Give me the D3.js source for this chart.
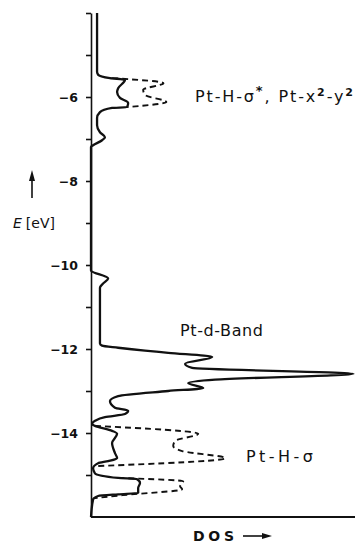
<!DOCTYPE html>
<html>
<head>
<meta charset="utf-8">
<script src="https://cdn.jsdelivr.net/npm/d3@7"></script>
<style>
  html, body { margin: 0; padding: 0; background: #fff; }
  svg { display: block; }
</style>
</head>
<body>
<script>
// ---- data (energy in eV, DOS in arbitrary units 0..100) ----
const solidE = [-4.0, -5.40, -5.47, -5.55, -5.59, -5.79, -5.88, -6.02, -6.14, -6.24, -6.26, -6.36, -6.50, -6.67, -6.84, -6.96, -7.03, -7.15, -7.19,
  -10.13, -10.32, -10.44, -10.54, -11.87, -11.92, -11.97, -12.04, -12.09, -12.19, -12.35, -12.45, -12.59, -12.73, -12.81, -12.93, -13.00,
  -13.12, -13.24, -13.40, -13.47, -13.55, -13.62, -13.71, -13.79, -13.83, -13.95, -14.02, -14.24, -14.48, -14.60, -14.67, -14.72, -14.84,
  -14.96, -15.07, -15.10, -15.19, -15.31, -15.43, -15.46, -15.50, -15.58, -16.0];
const solidDOS = [2.3, 2.3, 2.7, 7.2, 12.9, 10.3, 9.9, 11.0, 14.1, 13.7, 8.0, 3.4, 2.3, 2.3, 3.4, 5.3, 4.2, 0.8, 0,
  0, 6.5, 4.6, 3.4, 3.4, 4.2, 10.3, 20.5, 29.3, 46.0, 35.7, 38.4, 99.6, 47.1, 36.9, 42.6, 29.3,
  10.3, 7.2, 9.1, 14.1, 12.9, 5.3, 1.5, 0.4, 1.5, 8.0, 9.9, 8.0, 9.1, 9.9, 6.5, 2.7, 0.8,
  1.5, 10.3, 17.5, 18.6, 17.9, 17.9, 10.3, 2.7, 0.8, 0];

const dashUpperE = [-5.55, -5.67, -5.83, -5.95, -6.12, -6.24];
const dashUpperDOS = [8.0, 27.5, 19.8, 20.5, 28.6, 13.7];

const dashLowerE = [-13.83, -14.02, -14.19, -14.31, -14.43, -14.60, -14.79];
const dashLowerDOS = [1.5, 40.7, 31.9, 31.2, 34.6, 51.0, 1.5];

const dashBottomE = [-15.07, -15.15, -15.27, -15.34, -15.48, -15.55];
const dashBottomDOS = [10.3, 35.0, 33.8, 34.6, 12.0, 1.5];

const tickValues = [-4, -5, -6, -7, -8, -9, -10, -11, -12, -13, -14, -15];
const tickLabels = ["", "", "−6", "", "−8", "", "−10", "", "−12", "", "−14", ""];

const labelTop = "Pt-H-σ";
const labelBand = "Pt-d-Band";
const labelSigma = "Pt-H-σ";
const yTitle = "[eV]";
const xTitle = "DOS";

// ---- layout ----
const W = 355, H = 543;
const svg = d3.select("body").append("svg").attr("width", W).attr("height", H);

const y = d3.scaleLinear().domain([-4, -16]).range([13, 517]);
const x = d3.scaleLinear().domain([0, 100]).range([91, 354.5]);
const ink = "#111";

// y axis
const yAxis = d3.axisLeft(y)
  .tickValues(tickValues)
  .tickSize(5)
  .tickSizeOuter(0)
  .tickPadding(8)
  .tickFormat((d, i) => tickLabels[i]);

const gy = svg.append("g").attr("transform", `translate(${x(0)},0)`).call(yAxis);
gy.select(".domain").attr("stroke", ink).attr("stroke-width", 1.6);
gy.selectAll(".tick line").attr("stroke", ink).attr("stroke-width", 1.6);
gy.selectAll(".tick text")
  .attr("fill", ink)
  .style("font-family", "'DejaVu Sans', sans-serif")
  .style("font-weight", "bold")
  .style("font-size", "12.5px");

// x axis line (bottom)
svg.append("line")
  .attr("x1", x(0)).attr("x2", W)
  .attr("y1", y(-16)).attr("y2", y(-16))
  .attr("stroke", ink).attr("stroke-width", 1.8);

// curves
const line = d3.line()
  .x(d => x(d[1]))
  .y(d => y(d[0]))
  .curve(d3.curveMonotoneY);

const zipS = (e, v) => e.map((d, i) => [d, v[i]]);

[[dashUpperE, dashUpperDOS], [dashLowerE, dashLowerDOS], [dashBottomE, dashBottomDOS]].forEach(([e, v]) => {
  svg.append("path")
    .attr("d", line(zipS(e, v)))
    .attr("fill", "none")
    .attr("stroke", ink)
    .attr("stroke-width", 1.9)
    .attr("stroke-dasharray", "6,4");
});

svg.append("path")
  .attr("d", line(zipS(solidE, solidDOS)))
  .attr("fill", "none")
  .attr("stroke", ink)
  .attr("stroke-width", 2.3)
  .attr("stroke-linejoin", "round");

// labels
const font = "'DejaVu Sans', sans-serif";

const t1 = svg.append("text")
  .attr("x", 195).attr("y", 102)
  .attr("textLength", 158).attr("lengthAdjust", "spacing")
  .style("font-family", font).style("font-size", "16px").attr("fill", ink);
t1.append("tspan").text(labelTop);
t1.append("tspan").attr("dy", -7).style("font-size", "13px").style("font-weight", "bold").text("*");
t1.append("tspan").attr("dy", 7).text(", Pt-x");
t1.append("tspan").attr("dy", -6).style("font-size", "11px").style("font-weight", "bold").text("2");
t1.append("tspan").attr("dy", 6).text("-y");
t1.append("tspan").attr("dy", -6).style("font-size", "11px").style("font-weight", "bold").text("2");

svg.append("text")
  .attr("x", 180).attr("y", 336)
  .attr("textLength", 83).attr("lengthAdjust", "spacing")
  .style("font-family", font).style("font-size", "16px").attr("fill", ink)
  .text(labelBand);

svg.append("text")
  .attr("x", 246).attr("y", 462)
  .attr("textLength", 67).attr("lengthAdjust", "spacing")
  .style("font-family", font).style("font-size", "16px").attr("fill", ink)
  .text(labelSigma);

// y title
const yt = svg.append("text")
  .attr("x", 13).attr("y", 228)
  .style("font-family", font).style("font-size", "14px").attr("fill", ink);
yt.append("tspan").style("font-style", "italic").text("E");
yt.append("tspan").attr("dx", 4).text(yTitle);

// up arrow
svg.append("line").attr("x1", 32).attr("x2", 32).attr("y1", 198).attr("y2", 178)
  .attr("stroke", ink).attr("stroke-width", 1.6);
svg.append("path").attr("d", "M32,170 L35,181 L29,181 Z").attr("fill", ink);

// x title
svg.append("text")
  .attr("x", 193).attr("y", 541)
  .attr("textLength", 41).attr("lengthAdjust", "spacing")
  .style("font-family", font).style("font-size", "14px").style("font-weight", "bold").attr("fill", ink)
  .text(xTitle);
svg.append("line").attr("x1", 243).attr("x2", 263).attr("y1", 536).attr("y2", 536)
  .attr("stroke", ink).attr("stroke-width", 1.6);
svg.append("path").attr("d", "M272,536 L262,533 L262,539 Z").attr("fill", ink);
</script>
</body>
</html>
